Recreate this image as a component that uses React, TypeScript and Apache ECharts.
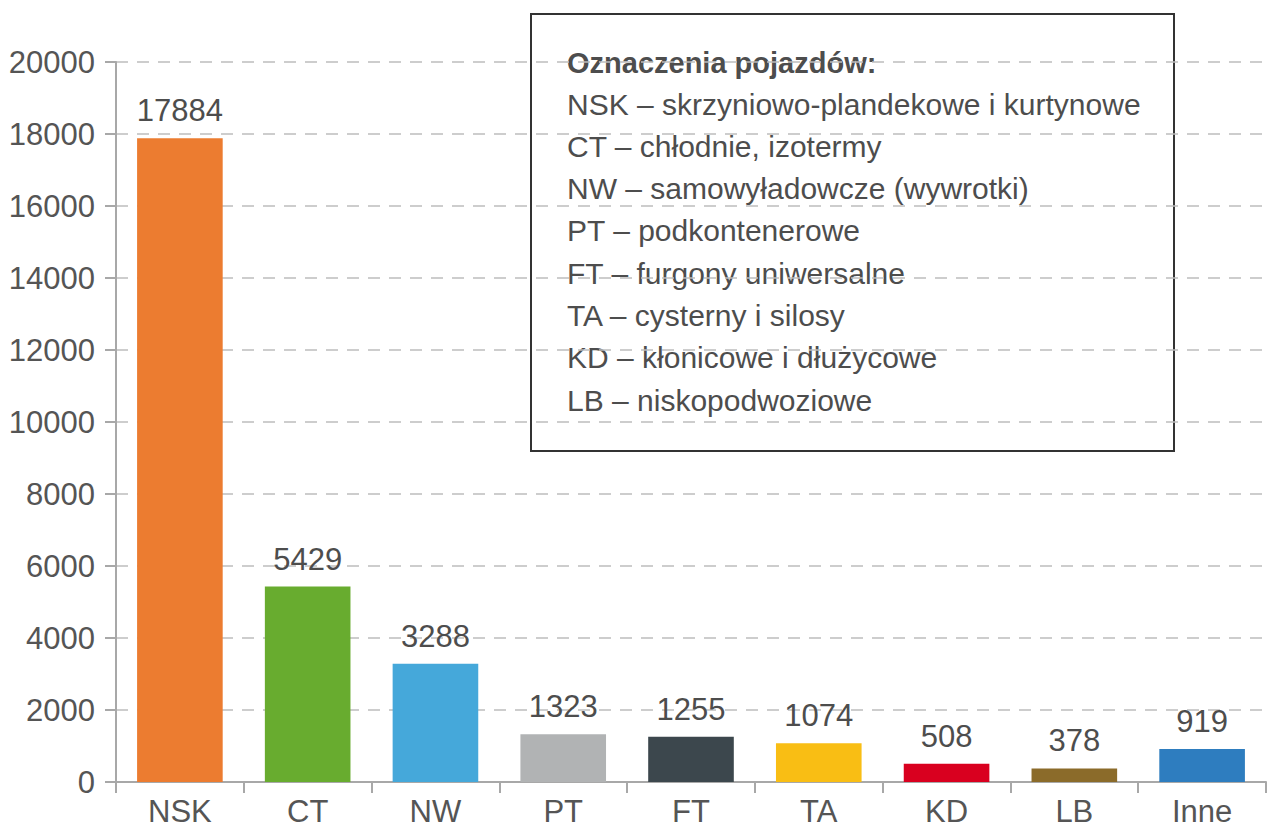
import React, { useEffect, useRef } from "react";
import * as echarts from "echarts";

const categories = ["NSK", "CT", "NW", "PT", "FT", "TA", "KD", "LB", "Inne"];
const values = [17884, 5429, 3288, 1323, 1255, 1074, 508, 378, 919];
const barColors = ["#EC7C30", "#68AC2F", "#45A8DA", "#B1B3B4", "#3C474D", "#F9BE14", "#D9001F", "#8B6B2A", "#2E7DBF"];
const legendTitle = "Oznaczenia pojazdów:";
const legendLines = [
  "NSK – skrzyniowo-plandekowe i kurtynowe",
  "CT – chłodnie, izotermy",
  "NW – samowyładowcze (wywrotki)",
  "PT – podkontenerowe",
  "FT – furgony uniwersalne",
  "TA – cysterny i silosy",
  "KD – kłonicowe i dłużycowe",
  "LB – niskopodwoziowe",
];

const FONT = "'Liberation Sans', Arial, sans-serif";

export default function App() {
  const ref = useRef<HTMLDivElement>(null);
  useEffect(() => {
    if (!ref.current) return;
    const chart = echarts.init(ref.current, undefined, { renderer: "svg" });
    const textEls: any[] = [
      {
        type: "text",
        x: 567,
        y: 63,
        style: {
          text: legendTitle,
          font: `bold 29px ${FONT}`,
          fill: "#4d4d4d",
          verticalAlign: "middle",
        },
      },
      ...legendLines.map((t, i) => ({
        type: "text",
        x: 567,
        y: 104 + i * 42.3,
        style: {
          text: t,
          font: `30px ${FONT}`,
          fill: "#4d4d4d",
          verticalAlign: "middle",
        },
      })),
    ];
    chart.setOption({
      animation: false,
      backgroundColor: "#ffffff",
      textStyle: { fontFamily: FONT },
      grid: { left: 116, right: 14, top: 62, bottom: 54, containLabel: false },
      xAxis: {
        type: "category",
        data: categories,
        axisLine: { show: true, lineStyle: { color: "#a8a8a8", width: 2 } },
        axisTick: { show: true, length: 11, lineStyle: { color: "#a8a8a8", width: 2 } },
        axisLabel: { color: "#555555", fontSize: 31, fontFamily: FONT, margin: 14 },
      },
      yAxis: {
        type: "value",
        min: 0,
        max: 20000,
        interval: 2000,
        axisLine: { show: true, lineStyle: { color: "#a8a8a8", width: 2 } },
        axisTick: { show: true, length: 11, lineStyle: { color: "#a8a8a8", width: 2 } },
        axisLabel: {
          color: "#555555",
          fontSize: 31,
          fontFamily: FONT,
          margin: 21,
          formatter: (v: number) => String(v),
        },
        splitLine: { show: true, lineStyle: { color: "#bdbdbd", width: 1.5, type: [12, 9] } },
      },
      series: [
        {
          type: "bar",
          data: values.map((v, i) => ({ value: v, itemStyle: { color: barColors[i] } })),
          barCategoryGap: "33%",
          label: {
            show: true,
            position: "top",
            distance: 12,
            color: "#4d4d4d",
            fontSize: 31,
            fontFamily: FONT,
          },
        },
      ],
      graphic: [
        {
          type: "group",
          z: 100,
          children: [
            {
              type: "rect",
              shape: { x: 531, y: 14, width: 643, height: 437 },
              style: { fill: "#ffffff", stroke: "#333333", lineWidth: 2 },
            },
            ...textEls,
          ],
        },
      ],
    });
    return () => chart.dispose();
  }, []);
  return (
    <div
      ref={ref}
      style={{ position: "absolute", left: 0, top: 0, width: 1280, height: 836 }}
    />
  );
}
